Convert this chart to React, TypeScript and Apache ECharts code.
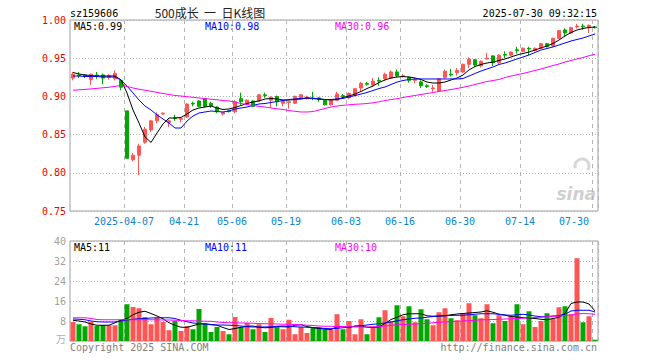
import React, { useEffect, useRef } from "react";
import * as echarts from "echarts";

const dates = [
  "2025-03-24","2025-03-25","2025-03-26","2025-03-27","2025-03-28","2025-03-31",
  "2025-04-01","2025-04-02","2025-04-03",
  "2025-04-07","2025-04-08","2025-04-09","2025-04-10","2025-04-11",
  "2025-04-14","2025-04-15","2025-04-16","2025-04-17","2025-04-18",
  "2025-04-21","2025-04-22","2025-04-23","2025-04-24","2025-04-25",
  "2025-04-28","2025-04-29","2025-04-30",
  "2025-05-06","2025-05-07","2025-05-08","2025-05-09",
  "2025-05-12","2025-05-13","2025-05-14","2025-05-15","2025-05-16",
  "2025-05-19","2025-05-20","2025-05-21","2025-05-22","2025-05-23",
  "2025-05-26","2025-05-27","2025-05-28","2025-05-29","2025-05-30",
  "2025-06-03","2025-06-04","2025-06-05","2025-06-06",
  "2025-06-09","2025-06-10","2025-06-11","2025-06-12","2025-06-13",
  "2025-06-16","2025-06-17","2025-06-18","2025-06-19","2025-06-20",
  "2025-06-23","2025-06-24","2025-06-25","2025-06-26","2025-06-27",
  "2025-06-30",
  "2025-07-01","2025-07-02","2025-07-03","2025-07-04",
  "2025-07-07","2025-07-08","2025-07-09","2025-07-10","2025-07-11",
  "2025-07-14","2025-07-15","2025-07-16","2025-07-17","2025-07-18",
  "2025-07-21","2025-07-22","2025-07-23","2025-07-24","2025-07-25",
  "2025-07-28","2025-07-29","2025-07-30",
];

const tickDates = [
  "2025-04-07","2025-04-21","2025-05-06","2025-05-19","2025-06-03",
  "2025-06-16","2025-06-30","2025-07-14","2025-07-30",
];

// [open, close, low, high]
const ohlc = [
  [0.924,0.929,0.921,0.932],[0.928,0.927,0.924,0.932],[0.928,0.926,0.924,0.929],[0.922,0.929,0.915,0.930],
  [0.928,0.927,0.923,0.932],[0.928,0.924,0.916,0.930],[0.925,0.927,0.922,0.929],[0.923,0.930,0.921,0.934],
  [0.921,0.912,0.908,0.922],[0.881,0.819,0.819,0.881],[0.817,0.823,0.815,0.826],[0.823,0.835,0.797,0.838],
  [0.840,0.857,0.838,0.860],[0.856,0.868,0.853,0.869],[0.868,0.876,0.865,0.879],[0.877,0.878,0.876,0.879],
  [0.866,0.868,0.860,0.870],[0.872,0.871,0.868,0.876],[0.870,0.871,0.866,0.872],[0.873,0.890,0.872,0.891],
  [0.891,0.890,0.887,0.893],[0.894,0.887,0.886,0.895],[0.897,0.887,0.886,0.898],[0.891,0.888,0.885,0.893],
  [0.886,0.880,0.878,0.887],[0.877,0.879,0.875,0.880],[0.881,0.880,0.879,0.882],[0.880,0.893,0.878,0.895],
  [0.897,0.893,0.889,0.905],[0.891,0.895,0.889,0.896],[0.894,0.887,0.886,0.895],[0.894,0.902,0.893,0.903],
  [0.902,0.901,0.898,0.905],[0.895,0.899,0.885,0.900],[0.900,0.893,0.887,0.901],[0.891,0.894,0.887,0.895],
  [0.892,0.893,0.884,0.894],[0.891,0.900,0.890,0.901],[0.897,0.902,0.896,0.903],[0.897,0.899,0.896,0.901],
  [0.898,0.897,0.895,0.906],[0.898,0.896,0.893,0.899],[0.895,0.889,0.888,0.896],[0.889,0.895,0.888,0.896],
  [0.895,0.903,0.894,0.906],[0.901,0.900,0.898,0.903],[0.898,0.904,0.897,0.905],[0.901,0.910,0.900,0.911],
  [0.911,0.917,0.907,0.919],[0.917,0.916,0.914,0.919],[0.915,0.920,0.912,0.924],[0.921,0.920,0.914,0.925],
  [0.923,0.929,0.921,0.931],[0.924,0.932,0.923,0.934],[0.932,0.927,0.925,0.935],[0.926,0.927,0.925,0.929],
  [0.925,0.921,0.918,0.926],[0.921,0.922,0.917,0.924],[0.919,0.914,0.911,0.921],[0.914,0.913,0.911,0.916],
  [0.910,0.911,0.906,0.915],[0.907,0.923,0.906,0.924],[0.925,0.933,0.923,0.935],[0.929,0.928,0.926,0.936],
  [0.931,0.934,0.927,0.937],[0.932,0.942,0.931,0.943],[0.942,0.949,0.937,0.951],[0.948,0.941,0.939,0.949],
  [0.940,0.946,0.938,0.947],[0.949,0.950,0.948,0.957],[0.953,0.944,0.940,0.954],[0.944,0.954,0.942,0.955],
  [0.955,0.954,0.950,0.959],[0.954,0.958,0.953,0.959],[0.961,0.960,0.956,0.965],[0.959,0.963,0.958,0.964],
  [0.963,0.962,0.954,0.965],[0.960,0.963,0.959,0.964],[0.963,0.969,0.962,0.970],[0.969,0.965,0.964,0.970],
  [0.966,0.976,0.965,0.977],[0.976,0.986,0.975,0.987],[0.987,0.983,0.978,0.989],[0.983,0.990,0.982,0.991],
  [0.991,0.992,0.989,0.995],[0.992,0.991,0.987,0.995],[0.990,0.993,0.983,0.994],[0.991,0.990,0.989,0.992],
];

const ma5 = [
  0.9313,0.9293,0.9280,0.9273,0.9267,0.9267,0.9267,0.9267,0.9215,0.9045,
  0.8822,0.8652,0.8469,0.8397,0.8521,0.8639,0.8717,0.8717,0.8724,0.8770,
  0.8822,0.8848,0.8861,0.8874,0.8848,0.8829,0.8835,0.8855,0.8881,0.8907,
  0.8927,0.8940,0.8966,0.8973,0.8966,0.8953,0.8953,0.8959,0.8966,0.8979,
  0.8973,0.8966,0.8959,0.8953,0.8959,0.8986,0.9005,0.9031,0.9064,0.9103,
  0.9136,0.9182,0.9215,0.9241,0.9254,0.9260,0.9254,0.9241,0.9221,0.9188,
  0.9175,0.9175,0.9188,0.9215,0.9241,0.9280,0.9346,0.9391,0.9418,0.9437,
  0.9450,0.9470,0.9490,0.9516,0.9542,0.9562,0.9581,0.9607,0.9634,0.9660,
  0.9692,0.9738,0.9791,0.9836,0.9869,0.9889,0.9902,0.9908,
];
const ma10 = [
  0.9267,0.9267,0.9260,0.9260,0.9260,0.9254,0.9254,0.9254,0.9215,0.9136,
  0.9045,0.8953,0.8874,0.8822,0.8757,0.8704,0.8652,0.8586,0.8586,0.8678,
  0.8743,0.8783,0.8796,0.8809,0.8802,0.8796,0.8809,0.8835,0.8848,0.8861,
  0.8881,0.8901,0.8907,0.8920,0.8933,0.8946,0.8959,0.8966,0.8973,0.8979,
  0.8973,0.8966,0.8959,0.8959,0.8966,0.8973,0.8992,0.9012,0.9031,0.9051,
  0.9077,0.9103,0.9123,0.9156,0.9188,0.9208,0.9221,0.9228,0.9228,0.9228,
  0.9228,0.9228,0.9228,0.9228,0.9228,0.9234,0.9267,0.9300,0.9332,0.9359,
  0.9385,0.9418,0.9437,0.9463,0.9490,0.9516,0.9542,0.9575,0.9607,0.9627,
  0.9647,0.9673,0.9699,0.9725,0.9745,0.9764,0.9791,0.9817,
];
const ma30 = [
  0.9080,0.9086,0.9092,0.9098,0.9105,0.9113,0.9120,0.9132,0.9143,0.9130,
  0.9110,0.9094,0.9081,0.9067,0.9052,0.9038,0.9025,0.9012,0.9005,0.8996,
  0.8988,0.8979,0.8971,0.8963,0.8956,0.8946,0.8940,0.8927,0.8907,0.8894,
  0.8881,0.8870,0.8861,0.8848,0.8838,0.8829,0.8815,0.8805,0.8796,0.8796,
  0.8802,0.8822,0.8842,0.8861,0.8874,0.8883,0.8890,0.8897,0.8901,0.8907,
  0.8916,0.8929,0.8946,0.8958,0.8969,0.8986,0.8999,0.9012,0.9025,0.9038,
  0.9051,0.9064,0.9077,0.9090,0.9103,0.9119,0.9136,0.9156,0.9175,0.9195,
  0.9208,0.9221,0.9247,0.9267,0.9283,0.9300,0.9319,0.9339,0.9359,0.9381,
  0.9405,0.9424,0.9450,0.9470,0.9490,0.9509,0.9532,0.9552,
];

// volume, in 万
const volumes = [
  7.6,6.7,5.9,7.6,6.0,6.3,6.3,6.3,8.5,14.7,
  13.6,13.1,9.6,6.7,9.3,7.6,4.3,8.0,4.0,5.9,
  4.7,12.8,6.9,3.6,5.6,4.0,2.7,9.6,5.6,7.2,
  4.7,6.7,3.6,9.2,5.6,4.7,8.5,2.7,5.6,3.2,
  5.3,5.3,4.7,4.5,10.7,4.7,8.0,2.7,8.7,2.7,
  5.3,9.5,12.3,8.0,14.3,9.9,13.9,7.5,12.7,8.7,
  6.3,11.5,13.1,9.1,8.3,11.1,15.1,10.3,9.1,14.7,
  7.1,10.3,8.0,9.9,14.7,6.7,11.9,5.6,8.0,11.1,
  8.9,13.5,13.9,10.7,33.1,7.5,9.9,0.5,
];
const volMa5 = [
  8.3,8.0,7.6,6.8,6.3,6.3,6.3,7.3,8.3,9.0,
  10.5,11.5,11.9,11.0,10.0,8.9,7.3,6.3,5.5,5.5,
  6.1,6.8,6.9,6.6,6.3,5.4,4.6,5.0,5.5,5.9,
  6.0,5.5,5.3,5.4,5.8,5.7,5.6,6.3,6.5,5.8,
  5.3,5.0,4.8,4.6,5.7,5.8,5.3,6.0,6.0,5.5,
  5.4,5.6,7.0,8.6,9.5,10.5,10.9,10.9,10.9,10.1,
  9.9,10.0,10.1,10.5,10.8,11.0,11.2,11.4,11.6,12.1,
  11.5,10.7,10.3,9.8,9.6,9.3,9.2,9.0,8.7,8.5,
  9.0,9.5,11.0,15.0,15.6,15.6,14.8,12.0,
];
const volMa10 = [
  8.8,8.7,8.5,8.0,7.7,7.6,7.6,7.6,8.0,8.4,
  8.7,8.9,9.0,9.2,9.3,9.3,9.3,9.0,8.3,7.7,
  7.2,7.0,6.8,6.5,6.4,6.4,6.3,6.2,6.0,5.7,
  5.6,5.6,5.6,5.7,5.9,6.0,5.9,5.7,5.6,5.5,
  5.4,5.3,5.0,4.9,5.1,5.3,5.6,5.9,6.1,6.4,
  6.7,6.9,7.2,7.6,8.1,8.5,8.8,9.1,9.2,9.5,
  9.8,10.0,10.1,10.2,10.3,10.3,10.5,10.7,10.9,10.9,
  10.9,10.7,10.4,10.3,10.5,10.7,10.4,10.0,9.7,9.8,
  10.0,10.2,10.7,12.0,12.3,12.3,12.3,11.6,
];
const volMa30 = [
  9.3,9.3,9.3,9.0,8.6,8.5,8.5,8.5,8.5,8.5,
  8.5,8.5,8.5,8.5,8.5,8.4,8.4,8.3,8.2,8.1,
  8.1,8.0,7.9,7.9,7.6,7.4,7.3,7.3,7.2,7.2,
  7.1,7.0,6.9,6.9,6.8,6.7,6.7,6.6,6.5,6.3,
  6.2,6.0,5.9,5.9,5.8,5.8,5.7,5.7,5.6,5.6,
  5.7,5.8,6.0,6.3,6.5,6.6,6.7,6.8,6.9,7.1,
  7.3,7.5,7.6,7.7,7.9,8.0,8.1,8.3,8.5,8.5,
  8.6,8.7,8.8,8.9,9.0,9.1,9.3,9.4,9.5,9.7,
  9.9,10.0,10.2,10.4,10.8,11.0,10.9,10.7,
];

const priceTicks = [0.75, 0.8, 0.85, 0.9, 0.95, 1.0];
const volTicks = [0, 8, 16, 24, 32, 40];

const UP = "#ff5555";
const DOWN = "#00a800";
const MONO = "'DejaVu Sans Mono', 'Liberation Mono', monospace";
const FRAME = "#a0a0a0";
const GRIDLINE = "#b4b4b4";

export default function App() {
  const ref = useRef<HTMLDivElement>(null);

  useEffect(() => {
    if (!ref.current) return;
    const chart = echarts.init(ref.current, null, { renderer: "svg" });
    const tickIdx = new Set(tickDates.map((d) => dates.indexOf(d)));
    const showTick = (i: number) => tickIdx.has(i);

    const volData = volumes.map((v, i) => ({
      value: v,
      itemStyle: { color: ohlc[i][1] >= ohlc[i][0] ? UP : DOWN },
    }));

    const xBase = {
      type: "category" as const,
      data: dates,
      boundaryGap: true,
      axisLine: { show: false },
      axisTick: { show: false },
      splitLine: {
        show: true,
        interval: (i: number) => showTick(i),
        lineStyle: { color: GRIDLINE, type: [4, 4] as any, width: 1 },
      },
    };

    const txt = (x: number, y: number, text: string, fill: string, align = "left", font = `10px ${MONO}`) => ({
      type: "text",
      x,
      y,
      silent: true,
      style: { text, fill, font, align, verticalAlign: "middle" },
    });

    const line = (data: number[], color: string, xi: number) => ({
      type: "line",
      xAxisIndex: xi,
      yAxisIndex: xi,
      data,
      symbol: "none",
      silent: true,
      lineStyle: { width: 1, color },
      z: 3,
    });

    chart.setOption({
      animation: false,
      backgroundColor: "#ffffff",
      grid: [
        { left: 70, top: 20, width: 528, height: 191, show: true, borderColor: FRAME, borderWidth: 1, backgroundColor: "transparent" },
        { left: 70, top: 241, width: 528, height: 100, show: true, borderColor: FRAME, borderWidth: 1, backgroundColor: "transparent" },
      ],
      xAxis: [
        {
          ...xBase,
          gridIndex: 0,
          axisLabel: {
            interval: (i: number) => showTick(i),
            formatter: (v: string) => (v === tickDates[0] ? v : v.slice(5)),
            color: "#0a84d0",
            fontFamily: MONO,
            fontSize: 10,
            margin: 5,
            padding: [0, 6, 0, 0],
            hideOverlap: false,
            alignMinLabel: "center",
            alignMaxLabel: "right",
          },
        },
        { ...xBase, gridIndex: 1, axisLabel: { show: false } },
      ],
      yAxis: [
        {
          type: "value",
          gridIndex: 0,
          min: priceTicks[0],
          max: priceTicks[priceTicks.length - 1],
          interval: 0.05,
          axisLine: { show: false },
          axisTick: { show: false },
          axisLabel: { formatter: (v: number) => v.toFixed(2), color: "#ee0000", fontFamily: MONO, fontSize: 10, margin: 4 },
          splitLine: { show: true, lineStyle: { color: GRIDLINE, type: [1, 2] as any, width: 1 } },
        },
        {
          type: "value",
          gridIndex: 1,
          min: volTicks[0],
          max: volTicks[volTicks.length - 1],
          interval: 8,
          axisLine: { show: false },
          axisTick: { show: false },
          axisLabel: { formatter: (v: number) => (v === 0 ? "" : String(v)), color: "#a0a0a0", fontFamily: MONO, fontSize: 10, margin: 4 },
          splitLine: { show: true, lineStyle: { color: GRIDLINE, type: [1, 2] as any, width: 1 } },
        },
      ],
      series: [
        {
          type: "candlestick",
          xAxisIndex: 0,
          yAxisIndex: 0,
          data: ohlc,
          barWidth: 4,
          silent: true,
          itemStyle: { color: UP, color0: DOWN, borderColor: UP, borderColor0: DOWN, borderWidth: 1 },
          z: 2,
        },
        line(ma5, "#000000", 0),
        line(ma10, "#0000ff", 0),
        line(ma30, "#ff00ff", 0),
        {
          type: "bar",
          xAxisIndex: 1,
          yAxisIndex: 1,
          data: volData,
          barWidth: 5,
          silent: true,
          z: 2,
        },
        line(volMa5, "#000000", 1),
        line(volMa10, "#0000ff", 1),
        line(volMa30, "#ff00ff", 1),
      ],
      graphic: [
        txt(70, 13, "sz159606", "#000"),
        txt(210, 12, "500成长  一  日K线图", "#222", "center", "12px 'Noto Sans CJK SC', sans-serif"),
        txt(597, 13, "2025-07-30 09:32:15", "#000", "right"),
        txt(74, 26, "MA5:0.99", "#000"),
        txt(205, 26, "MA10:0.98", "#0000ff"),
        txt(335, 26, "MA30:0.96", "#ff00ff"),
        txt(74, 247, "MA5:11", "#000"),
        txt(205, 247, "MA10:11", "#0000ff"),
        txt(335, 247, "MA30:10", "#ff00ff"),
        txt(66, 338, "万", "#b0b0b0", "right", "10px 'Noto Sans CJK SC', sans-serif"),
        txt(70, 347, "Copyright 2025 SINA.COM", "#808080"),
        txt(597, 347, "http://finance.sina.com.cn", "#808080", "right"),
        {
          type: "arc",
          silent: true,
          shape: { cx: 582, cy: 166, r: 7, startAngle: Math.PI * 0.9, endAngle: Math.PI * 2.2 },
          style: { stroke: "#d8d8d8", lineWidth: 3, fill: "none" },
        },
        txt(596, 194, "sina", "#d0d0d0", "right", "italic bold 17px 'DejaVu Sans', sans-serif"),
      ],
    });

    return () => chart.dispose();
  }, []);

  return (
    <div
      ref={ref}
      style={{ position: "absolute", left: 0, top: 0, width: 660, height: 360, background: "#fff" }}
    />
  );
}
